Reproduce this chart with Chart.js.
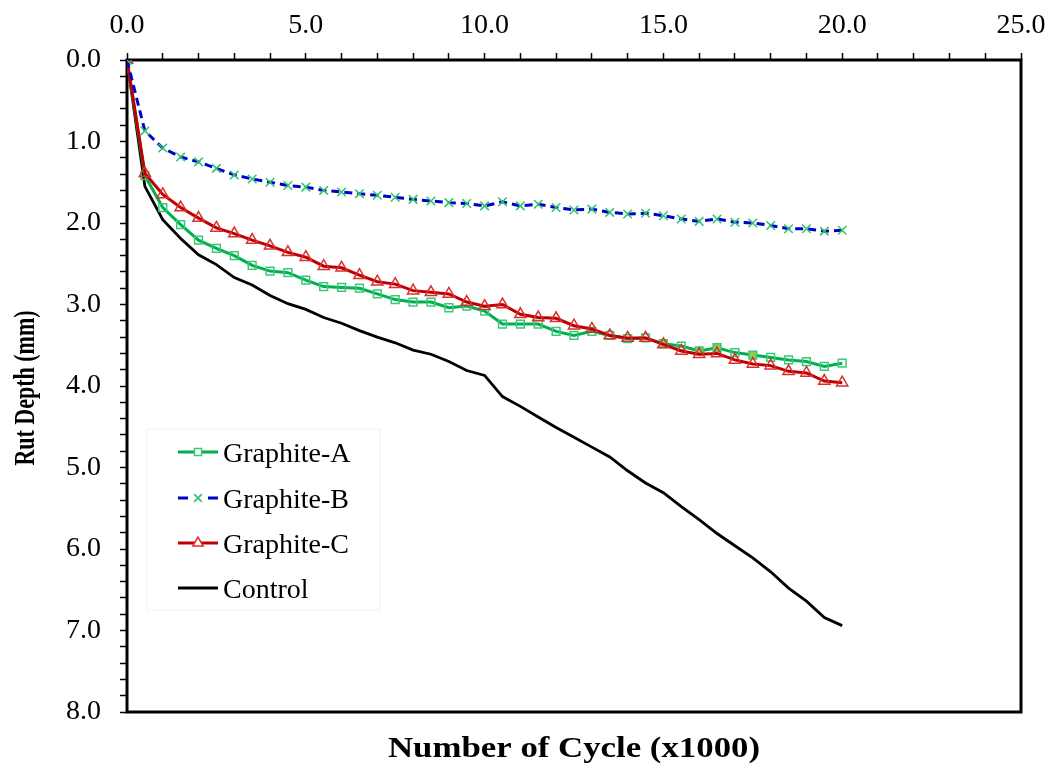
<!DOCTYPE html>
<html>
<head>
<meta charset="utf-8">
<script src="https://cdn.jsdelivr.net/npm/chart.js"></script>
<style>
  body { margin: 0; background: #fff; }
  #wrap { width: 1057px; height: 768px; }
</style>
</head>
<body>
<div id="wrap"><canvas id="rutChart" width="1057" height="768"></canvas></div>

<script>
  // Cycles (x1000) and rut depth (mm) per mix
  const cycles = [0, 0.5, 1, 1.5, 2, 2.5, 3, 3.5, 4, 4.5, 5, 5.5, 6, 6.5, 7, 7.5, 8, 8.5, 9, 9.5, 10,
                  10.5, 11, 11.5, 12, 12.5, 13, 13.5, 14, 14.5, 15, 15.5, 16, 16.5, 17, 17.5, 18, 18.5, 19, 19.5, 20];

  const graphiteA = [0, 1.42, 1.81, 2.02, 2.21, 2.31, 2.40, 2.52, 2.59, 2.61, 2.70, 2.78, 2.79, 2.80, 2.87, 2.94, 2.97, 2.97, 3.04, 3.02, 3.08,
                     3.24, 3.24, 3.24, 3.33, 3.38, 3.33, 3.38, 3.42, 3.41, 3.48, 3.51, 3.57, 3.53, 3.59, 3.62, 3.65, 3.68, 3.70, 3.76, 3.72];

  const graphiteB = [0, 0.87, 1.08, 1.19, 1.25, 1.33, 1.41, 1.46, 1.50, 1.54, 1.56, 1.60, 1.62, 1.64, 1.66, 1.685, 1.71, 1.73, 1.75, 1.76, 1.79,
                     1.74, 1.79, 1.77, 1.81, 1.84, 1.83, 1.87, 1.89, 1.88, 1.91, 1.95, 1.98, 1.95, 1.99, 2.00, 2.03, 2.07, 2.07, 2.10, 2.09];

  const graphiteC = [0, 1.39, 1.65, 1.81, 1.94, 2.06, 2.13, 2.21, 2.28, 2.36, 2.42, 2.53, 2.55, 2.64, 2.72, 2.75, 2.83, 2.85, 2.87, 2.97, 3.02,
                     3.00, 3.12, 3.16, 3.17, 3.26, 3.30, 3.38, 3.41, 3.41, 3.49, 3.57, 3.61, 3.60, 3.68, 3.73, 3.75, 3.82, 3.84, 3.94, 3.96];

  const control = [0, 1.55, 1.96, 2.19, 2.39, 2.51, 2.67, 2.76, 2.89, 2.99, 3.06, 3.16, 3.23, 3.32, 3.40, 3.47, 3.56, 3.61, 3.70, 3.81, 3.87,
                   4.13, 4.25, 4.38, 4.51, 4.63, 4.75, 4.87, 5.04, 5.19, 5.31, 5.48, 5.64, 5.81, 5.96, 6.11, 6.28, 6.48, 6.64, 6.84, 6.94];

  // a few Graphite-A markers show a solid fill
  const filledA = [15, 16, 16.5, 17.5];

  const xLabels = [0, 5, 10, 15, 20, 25];
  const yLabels = [0, 1, 2, 3, 4, 5, 6, 7, 8];

  const FONT = '"Liberation Serif", "Times New Roman", serif';

  function pts(values) {
    return cycles.map((c, i) => ({ x: c, y: values[i] }));
  }

  const datasets = [
    {
      label: 'Graphite-A',
      data: pts(graphiteA),
      borderColor: '#00b050',
      borderWidth: 3,
      pointStyle: 'rect',
      pointRadius: 5.5,
      pointBorderWidth: 1.5,
      pointBorderColor: '#3cc878',
      pointBackgroundColor: cycles.map(c => filledA.includes(c) ? '#8ccf4a' : 'rgba(0,0,0,0)'),
      order: 3
    },
    {
      label: 'Graphite-B',
      data: pts(graphiteB),
      borderColor: '#0000cc',
      borderWidth: 3,
      borderDash: [8, 5],
      pointStyle: 'crossRot',
      pointRadius: 6,
      pointBorderWidth: 1.5,
      pointBorderColor: '#2ec46a',
      order: 1
    },
    {
      label: 'Graphite-C',
      data: pts(graphiteC),
      borderColor: '#c00000',
      borderWidth: 3,
      pointStyle: 'triangle',
      pointRadius: 6.5,
      pointBorderWidth: 1.5,
      pointBorderColor: '#d83030',
      pointBackgroundColor: 'rgba(0,0,0,0)',
      order: 2
    },
    {
      label: 'Control',
      data: pts(control),
      borderColor: '#000',
      borderWidth: 2.8,
      pointRadius: 0,
      order: 4
    }
  ];

  // plot frame, axis titles and the legend box inside the plot
  const decorations = {
    id: 'decorations',
    beforeDatasetsDraw(chart) {
      const { ctx, chartArea: a } = chart;
      ctx.save();
      ctx.strokeStyle = '#000';
      ctx.lineWidth = 3;
      ctx.strokeRect(a.left, a.top, a.right - a.left, a.bottom - a.top);
      ctx.restore();
    },
    afterDraw(chart) {
      const { ctx, chartArea: a } = chart;
      ctx.save();
      ctx.fillStyle = '#000';
      ctx.textAlign = 'center';
      ctx.textBaseline = 'middle';

      // x title, slightly widened
      ctx.save();
      ctx.translate((a.left + a.right) / 2, 750);
      ctx.scale(1.2, 1);
      ctx.font = 'bold 29px ' + FONT;
      ctx.fillText('Number of Cycle (x1000)', 0, 0);
      ctx.restore();

      // y title, rotated and thickened
      ctx.save();
      ctx.translate(27, 388);
      ctx.rotate(-Math.PI / 2);
      ctx.scale(1, 1.3);
      ctx.font = 'bold 22px ' + FONT;
      ctx.fillText('Rut Depth (mm)', 0, 0);
      ctx.restore();

      // legend
      ctx.strokeStyle = '#f0f0f0';
      ctx.lineWidth = 1;
      ctx.strokeRect(147, 429, 233, 181);

      const rowY = [452, 498, 543, 588];
      const x0 = 178, x1 = 218, xm = 198;
      chart.data.datasets.forEach((ds, i) => {
        const y = rowY[i];
        ctx.strokeStyle = ds.borderColor;
        ctx.lineWidth = ds.borderWidth;
        ctx.setLineDash([]);
        ctx.beginPath();
        if (ds.borderDash) {
          ctx.moveTo(x0, y); ctx.lineTo(x0 + 10, y);
          ctx.moveTo(x1 - 10, y); ctx.lineTo(x1, y);
        } else {
          ctx.moveTo(x0, y); ctx.lineTo(x1, y);
        }
        ctx.stroke();
        if (ds.pointRadius > 0) {
          ctx.strokeStyle = ds.pointBorderColor;
          ctx.fillStyle = '#fff';
          ctx.lineWidth = ds.pointBorderWidth;
          Chart.helpers.drawPoint(ctx, {
            pointStyle: ds.pointStyle,
            radius: ds.pointRadius - 0.5,
            rotation: 0,
            borderWidth: ds.pointBorderWidth
          }, xm, y);
        }
        ctx.save();
        ctx.fillStyle = '#000';
        ctx.textAlign = 'left';
        ctx.textBaseline = 'alphabetic';
        ctx.font = '28px ' + FONT;
        ctx.fillText(ds.label, 223, y + 10);
        ctx.restore();
      });
      ctx.restore();
    }
  };

  new Chart(document.getElementById('rutChart'), {
    type: 'line',
    data: { datasets },
    options: {
      responsive: false,
      animation: false,
      events: [],
      layout: { padding: { left: 0, right: 36, top: 0, bottom: 56 } },
      elements: { line: { tension: 0, fill: false } },
      plugins: {
        legend: { display: false },
        tooltip: { enabled: false }
      },
      scales: {
        x: {
          type: 'linear',
          position: 'top',
          min: 0,
          max: 25,
          afterFit(s) { s.height = 60; },
          border: { display: false },
          grid: { drawOnChartArea: false, drawTicks: true, tickLength: 7, tickColor: '#000', tickWidth: 1.5 },
          ticks: {
            stepSize: 1,
            autoSkip: false,
            maxRotation: 0,
            color: '#000',
            padding: 11,
            font: { family: FONT, size: 28 },
            callback: v => xLabels.includes(v) ? v.toFixed(1) : ''
          }
        },
        y: {
          type: 'linear',
          reverse: true,
          min: 0,
          max: 8,
          afterFit(s) { s.width = 127; },
          border: { display: false },
          grid: { drawOnChartArea: false, drawTicks: true, tickLength: 7, tickColor: '#000', tickWidth: 1.5 },
          ticks: {
            stepSize: 0.2,
            autoSkip: false,
            color: '#000',
            padding: 19,
            font: { family: FONT, size: 28 },
            callback: v => {
              const r = Math.round(v);
              return (Math.abs(v - r) < 1e-6 && yLabels.includes(r)) ? r.toFixed(1) : '';
            }
          }
        }
      }
    },
    plugins: [decorations]
  });
</script>
</body>
</html>
